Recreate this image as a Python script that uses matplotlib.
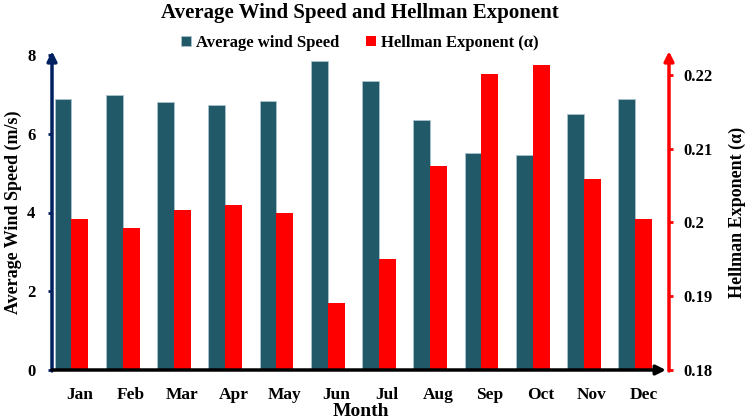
import numpy as np
import matplotlib.pyplot as plt

plt.rcParams['font.family'] = ['Liberation Serif', 'DejaVu Serif']
plt.rcParams['font.weight'] = 'bold'

months = ['Jan', 'Feb', 'Mar', 'Apr', 'May', 'Jun',
          'Jul', 'Aug', 'Sep', 'Oct', 'Nov', 'Dec']
wind_speed = [6.88, 6.98, 6.80, 6.74, 6.83, 7.84,
              7.33, 6.35, 5.52, 5.45, 6.49, 6.89]
hellman = [0.2005, 0.1993, 0.2017, 0.2024, 0.2013, 0.1891,
           0.1951, 0.2077, 0.2201, 0.2213, 0.2059, 0.2005]

blue = '#215968'
red = '#ff0000'
navy = '#002060'

fig = plt.figure(figsize=(7.45, 4.2), dpi=100)
ax = fig.add_axes([52 / 745, 1 - 370 / 420, 617 / 745, 315 / 420])
ax2 = ax.twinx()

x = np.arange(len(months))
w = 0.33
b1 = ax.bar(x - w / 2, wind_speed, w, color=blue, edgecolor='#a9c4cc',
            linewidth=0.6, label='Average wind Speed')
b2 = ax2.bar(x + w / 2, hellman, w, color=red, label='Hellman Exponent (α)')

ax.set_xlim(-0.38, 11.66)
ax.set_ylim(0, 8)
ax.set_yticks([0, 2, 4, 6, 8])
ax2.set_ylim(0.18, 0.2227)
ax2.set_yticks([0.18, 0.19, 0.2, 0.21, 0.22])
ax2.set_yticklabels(['0.18', '0.19', '0.2', '0.21', '0.22'])

# month labels sit a little right of the bar groups, as in the original
ax.set_xticks(x + 0.16)
ax.set_xticklabels(months)

for a in (ax, ax2):
    for s in a.spines.values():
        s.set_visible(False)

ax.tick_params(axis='x', length=0, pad=12, labelsize=12.5)
ax.tick_params(axis='y', length=3, width=2, color=navy, labelsize=12, pad=9)
ax2.tick_params(axis='y', length=3, width=2, color=red, labelsize=12, pad=7)

# axis lines with arrow heads
ax2.annotate('', xy=(0, 1.012), xytext=(0, -0.003), xycoords='axes fraction',
             arrowprops=dict(arrowstyle='-|>', color=navy, lw=2.5,
                             mutation_scale=14, shrinkA=0, shrinkB=0),
             annotation_clip=False)
ax2.annotate('', xy=(1, 1.012), xytext=(1, -0.003), xycoords='axes fraction',
             arrowprops=dict(arrowstyle='-|>', color=red, lw=2.5,
                             mutation_scale=14, shrinkA=0, shrinkB=0),
             annotation_clip=False)
ax2.annotate('', xy=(0.995, 0), xytext=(0, 0), xycoords='axes fraction',
             arrowprops=dict(arrowstyle='-|>', color='black', lw=2.5,
                             mutation_scale=14, shrinkA=0, shrinkB=0),
             annotation_clip=False)

ax.set_ylabel('Average Wind Speed (m/s)', fontsize=13, fontweight='bold')
ax.yaxis.set_label_coords(-0.049, 0.5)
ax2.set_ylabel('Hellman Exponent (α)', fontsize=13, fontweight='bold')
ax2.yaxis.set_label_coords(1.097, 0.5)
ax.set_xlabel('Month', fontsize=14, fontweight='bold')
ax.xaxis.set_label_coords(0.5, -0.105)

fig.suptitle('Average Wind Speed and Hellman Exponent', x=0.483, y=0.993,
             fontsize=15, fontweight='bold')
fig.legend(handles=[b1, b2], loc='center', bbox_to_anchor=(0.483, 1 - 43 / 420),
           ncol=2, frameon=False, fontsize=12, handlelength=0.6, handleheight=0.6,
           handletextpad=0.3, columnspacing=1.6)

fig.savefig('out.png', dpi=100)
